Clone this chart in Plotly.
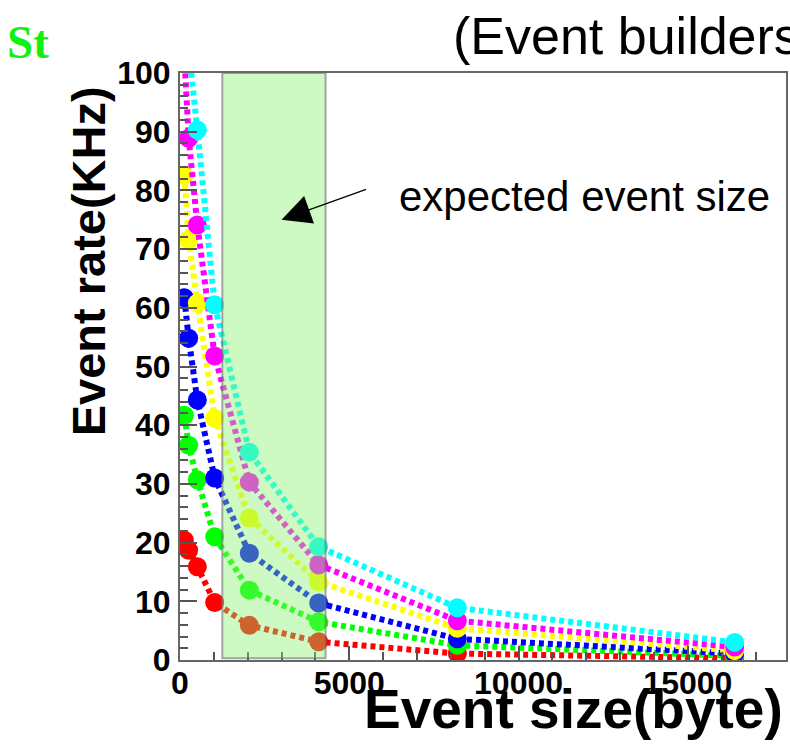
import plotly.graph_objects as go

# ---- data ----
event_size = [128, 256, 512, 1024, 2048, 4096, 8192, 16384]
rate_red = [20.4, 18.7, 15.9, 9.8, 5.9, 3.1, 1.1, 0.3]
rate_green = [41.7, 36.6, 30.7, 21.0, 11.9, 6.5, 2.5, 0.7]
rate_blue = [61.7, 54.8, 44.3, 31.0, 18.2, 9.7, 3.6, 1.1]
rate_yellow = [82.6, 71.6, 60.8, 41.2, 24.2, 13.3, 5.4, 1.6]
rate_magenta = [103.0, 88.9, 74.1, 51.8, 30.3, 16.2, 6.7, 2.2]
rate_cyan = [123.0, 104.0, 90.3, 60.5, 35.4, 19.3, 8.9, 3.0]

series = [
    ("red", rate_red, "#FF0000"),
    ("green", rate_green, "#00FF00"),
    ("blue", rate_blue, "#0000FF"),
    ("yellow", rate_yellow, "#FFFF00"),
    ("magenta", rate_magenta, "#FF00FF"),
    ("cyan", rate_cyan, "#00FFFF"),
]

expected_range = [1250, 4300]
x_ticks = [0, 5000, 10000, 15000]
x_tick_labels = ["0", "5000", "10000", "15000"]
y_ticks = [0, 10, 20, 30, 40, 50, 60, 70, 80, 90, 100]
y_tick_labels = ["0", "10", "20", "30", "40", "50", "60", "70", "80", "90", "100"]

FONT = "Liberation Sans, Arial, sans-serif"

fig = go.Figure()
for name, vals, col in series:
    fig.add_trace(go.Scatter(
        x=event_size, y=vals, name=name, mode="lines+markers",
        line=dict(color=col, width=6, dash="5px,4px"),
        marker=dict(color=col, size=19, line=dict(width=0)),
        showlegend=False,
    ))

# expected event size band (drawn above, semi-transparent)
fig.add_shape(type="rect", xref="x", yref="y",
              x0=expected_range[0], x1=expected_range[1], y0=0.3, y1=100,
              fillcolor="rgba(134,244,110,0.41)",
              line=dict(color="rgba(110,110,110,0.6)", width=2),
              layer="above")

axis_common = dict(
    showline=True, linecolor="#666666", linewidth=2, mirror=True,
    ticks="inside", tickcolor="#555555", tickwidth=1.5,
    showgrid=False, zeroline=False,
    tickfont=dict(family=FONT, size=32, color="black", weight="bold"),
)

fig.update_xaxes(range=[0, 17900], tickvals=x_ticks, ticktext=x_tick_labels, ticklen=14,
                 minor=dict(dtick=1000, ticklen=8, ticks="inside", tickcolor="#555555", tickwidth=1.5),
                 ticklabelstandoff=-6, **axis_common)
fig.update_yaxes(range=[0, 100], tickvals=y_ticks, ticktext=y_tick_labels, ticklen=17,
                 minor=dict(dtick=2, ticklen=8, ticks="inside", tickcolor="#555555", tickwidth=1.5),
                 ticklabelstandoff=1, **axis_common)

W, H = 790, 754
L, R, T, B = 180, 2, 73, 94
pw, ph = W - L - R, H - T - B


def px(xp):
    return (xp - L) / pw


def py(yp):
    return (H - B - yp) / ph


annotations = [
    dict(text="Event rate(KHz)", xref="paper", yref="paper", x=px(88), y=py(84),
         xanchor="center", yanchor="top", textangle=-90, showarrow=False,
         font=dict(family=FONT, size=47, color="black", weight="bold")),
    dict(text="Event size(byte)", xref="paper", yref="paper", x=px(787), y=py(709),
         xanchor="right", yanchor="middle", showarrow=False,
         font=dict(family=FONT, size=55, color="black", weight="bold")),
    dict(text="(Event builders", xref="paper", yref="paper", x=px(452), y=py(36),
         xanchor="left", yanchor="middle", showarrow=False,
         font=dict(family=FONT, size=52, color="black")),
    dict(text="St", xref="paper", yref="paper", x=px(4), y=py(42),
         xanchor="left", yanchor="middle", showarrow=False,
         font=dict(family="Liberation Serif, Times New Roman, serif", size=47,
                   color="#11F011", weight="bold")),
    dict(text="expected event size", xref="paper", yref="paper", x=px(398), y=py(196),
         xanchor="left", yanchor="middle", showarrow=False,
         font=dict(family=FONT, size=42, color="black")),
    dict(text="", x=3000, y=75.0, xref="x", yref="y", ax=86, ay=-31,
         showarrow=True, arrowhead=2, arrowsize=4.5, arrowwidth=1.3, arrowcolor="black"),
]

fig.update_layout(
    width=W, height=H,
    margin=dict(l=L, r=R, t=T, b=B, pad=0),
    paper_bgcolor="white", plot_bgcolor="white",
    annotations=annotations,
    showlegend=False,
)

fig.write_html("out.html", config={"displayModeBar": False},
               post_script="document.body.style.margin='0';document.body.style.overflow='hidden';")
